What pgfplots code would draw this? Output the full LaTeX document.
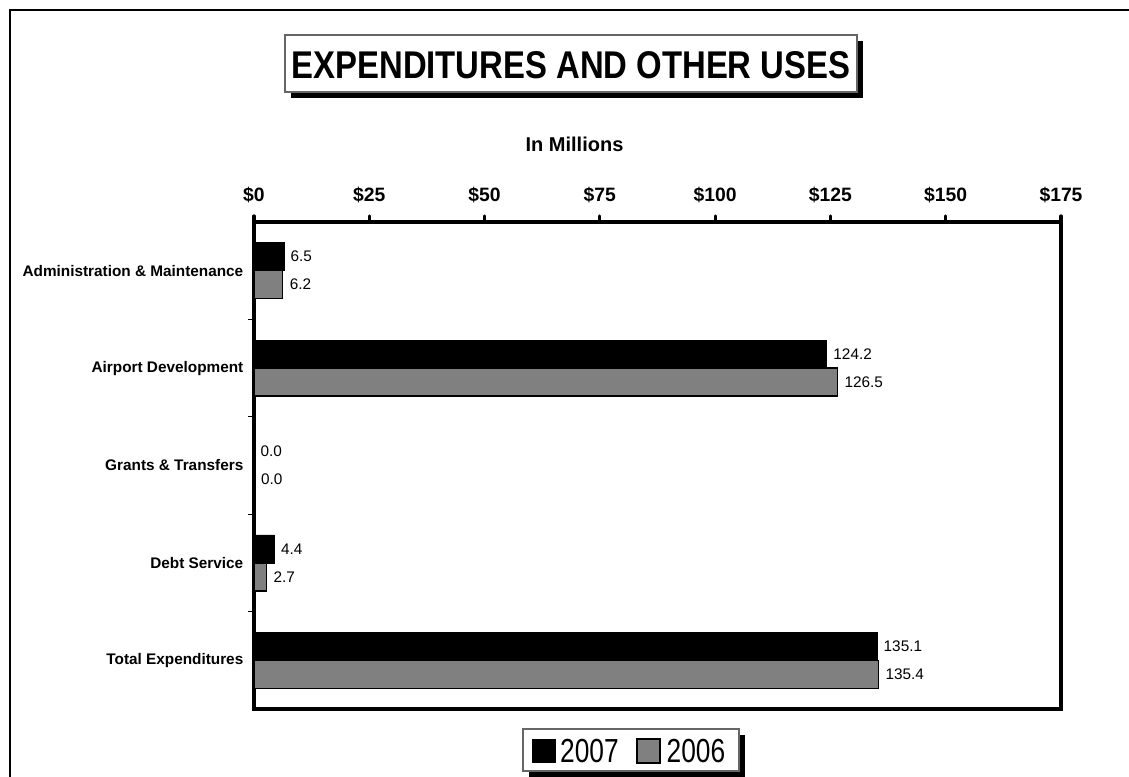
\documentclass[border=0pt]{standalone}
\usepackage{graphicx}
\usepackage{pgfplots}
\pgfplotsset{compat=1.18}
\usepackage{fontspec}
\setmainfont{Liberation Sans}
\definecolor{barGray}{RGB}{128,128,128}

\begin{document}
\begin{tikzpicture}[x=0.75pt,y=0.75pt]
\useasboundingbox (0,0) rectangle (1129,777);
% outer frame, only left and top edges are inside the picture
\draw[line width=1.6pt] (10,-5) -- (10,767) -- (1135,767);

% title with drop shadow
\fill[black] (291,679) rectangle (863,736);
\filldraw[fill=white, draw=black!60, line width=0.8pt] (285,685) rectangle (857,742);
\node at (571,712) {\scalebox{0.85}[1]{\bfseries\fontsize{29}{30}\selectfont EXPENDITURES AND OTHER USES}};

\node[font=\bfseries\fontsize{15}{16}\selectfont] at (574.5,632.5) {In Millions};

\begin{axis}[
    at={(190.5pt,51pt)}, anchor=south west,
    scale only axis,
    width=605.25pt, height=365.25pt,
    xbar,
    xmin=0, xmax=175,
    ymin=-0.5, ymax=4.5,
    y dir=reverse,
    axis line style={line width=3pt},
    tick align=outside,
    tick style={draw=black, line width=2.4pt, line cap=round},
    xtick={0,25,...,175},
    xticklabels={\$0,\$25,\$50,\$75,\$100,\$125,\$150,\$175},
    xtick pos=right, xticklabel pos=right,
    major tick length=4.5pt,
    xticklabel style={font=\bfseries\fontsize{14.5}{15}\selectfont, yshift=6pt},
    ytick={0,1,2,3,4},
    yticklabels={Administration \& Maintenance, Airport Development, Grants \& Transfers, Debt Service, Total Expenditures},
    ytick pos=left,
    ytick style={draw=none},
    yticklabel style={font=\bfseries\fontsize{11.5}{12}\selectfont},
    extra y ticks={0.5,1.5,2.5,3.5},
    extra y tick labels={},
    extra y tick style={ytick style={draw=black, line width=0.75pt, line cap=butt}},
    point meta=x,
    nodes near coords={\pgfmathprintnumber[fixed, fixed zerofill, precision=1, assume math mode=true]{\pgfplotspointmeta}},
    nodes near coords style={anchor=west, font=\fontsize{11.5}{12}\selectfont, xshift=1.5pt},
    clip=false,
]
\addplot[fill=black, draw=black, bar width=0.287, bar shift=-0.1435]
    coordinates {(6.5,0) (124.2,1) (0,2) (4.4,3) (135.1,4)};
\addplot[fill=barGray, draw=black, line width=1.1pt, bar width=0.287, bar shift=0.1435]
    coordinates {(6.2,0) (126.5,1) (0,2) (2.7,3) (135.4,4)};
\end{axis}

% legend with drop shadow
\fill[black] (529,0) rectangle (745,42);
\filldraw[fill=white, draw=black!60, line width=0.8pt] (523,6) rectangle (739,48);
\fill[black] (532,14) rectangle (556,38);
\filldraw[fill=barGray, draw=black, line width=0.8pt] (637,14) rectangle (660,38);
\node at (589.5,26) {\scalebox{0.79}[1]{\fontsize{25}{26}\selectfont 2007}};
\node at (696,26) {\scalebox{0.79}[1]{\fontsize{25}{26}\selectfont 2006}};
\end{tikzpicture}
\end{document}
